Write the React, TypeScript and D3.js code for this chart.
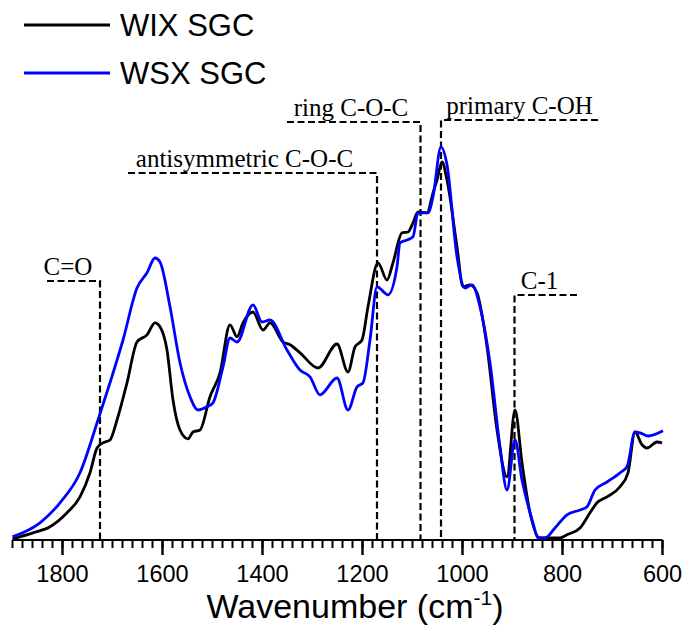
import React from "react";
import * as d3 from "d3";

// FTIR spectra (wavenumber in cm^-1, absorbance in arbitrary units)
const wixWavenumber = [
  1900, 1859, 1825, 1791, 1765, 1745, 1731, 1719, 1705, 1691, 1671, 1651, 1631, 1615, 1605,
  1591, 1579, 1565, 1549, 1539, 1525, 1505, 1485, 1465, 1451, 1439, 1419, 1399, 1385, 1359,
  1345, 1325, 1289, 1251, 1229, 1215, 1201, 1189, 1169, 1151, 1139, 1121, 1109, 1099, 1089,
  1071, 1059, 1051, 1041, 1031, 1011, 999, 985, 971, 951, 931, 911, 895, 881, 865, 845, 805,
  791, 765, 745, 731, 711, 685, 669, 655, 641, 631, 611, 601,
];
const wixAbsorbance = [
  0.003, 0.018, 0.033, 0.068, 0.108, 0.168, 0.23, 0.243, 0.25, 0.3, 0.393, 0.495, 0.513, 0.543, 0.533,
  0.475, 0.35, 0.275, 0.253, 0.27, 0.275, 0.358, 0.418, 0.538, 0.508, 0.543, 0.57, 0.525, 0.543, 0.495,
  0.488, 0.468, 0.43, 0.49, 0.42, 0.483, 0.5, 0.583, 0.693, 0.65, 0.693, 0.768, 0.77, 0.793, 0.82,
  0.818, 0.868, 0.9, 0.945, 0.9, 0.733, 0.633, 0.638, 0.618, 0.483, 0.275, 0.158, 0.325, 0.193, 0.068, 0.005, 0.005,
  0.013, 0.03, 0.068, 0.093, 0.108, 0.133, 0.168, 0.27, 0.238, 0.23, 0.245, 0.243,
];

const wsxWavenumber = [
  1900, 1845, 1805, 1765, 1729, 1705, 1679, 1651, 1631, 1615, 1605, 1585, 1565, 1545, 1529,
  1511, 1499, 1479, 1465, 1451, 1419, 1401, 1385, 1351, 1325, 1305, 1285, 1251, 1229, 1211,
  1199, 1185, 1171, 1149, 1131, 1125, 1111, 1099, 1089, 1069, 1059, 1043, 1031, 1011, 995,
  981, 965, 945, 925, 911, 895, 881, 859, 849, 835, 815, 791, 765, 751, 735, 711, 685, 671,
  655, 645, 629, 599,
];
const wsxAbsorbance = [
  0.008, 0.043, 0.093, 0.168, 0.3, 0.393, 0.5, 0.63, 0.668, 0.705, 0.695, 0.583, 0.443, 0.358, 0.325,
  0.333, 0.343, 0.433, 0.505, 0.495, 0.588, 0.545, 0.55, 0.475, 0.425, 0.408, 0.363, 0.405, 0.325, 0.383,
  0.393, 0.5, 0.633, 0.613, 0.683, 0.743, 0.75, 0.758, 0.818, 0.818, 0.858, 0.983, 0.938, 0.708, 0.63,
  0.638, 0.583, 0.443, 0.233, 0.125, 0.25, 0.15, 0.043, 0.005, 0.005, 0.03, 0.063, 0.075, 0.083, 0.125, 0.145, 0.168, 0.183,
  0.27, 0.268, 0.26, 0.273,
];

const seriesNames = ["WIX SGC", "WSX SGC"];
const seriesColors = ["#000000", "#0000ff"];

// Band assignments: vertical marker position, horizontal bracket extent and height
const bandLabels = ["C=O", "antisymmetric C-O-C", "ring C-O-C", "primary C-OH", "C-1"];
const bandPosition = [1725, 1171, 1084, 1043, 896];
const bandBracketEnd = [1831, 1669, 1351, 729, 771];
const bandLevel = [0.6475, 0.9175, 1.045, 1.05, 0.6125];
const bandLabelCenter = [1789, 1436, 1223, 886, 846];

const xMajorTicks = [1800, 1600, 1400, 1200, 1000, 800, 600];
const xDomain = [1900, 600];

const W = 686;
const H = 626;

export default function App() {
  const x = d3.scaleLinear().domain(xDomain).range([12.5, 662.5]);
  const y = d3.scaleLinear().domain([0, 1]).range([540, 140]);

  const line = d3
    .line<[number, number]>()
    .x((d) => x(d[0]))
    .y((d) => y(d[1]))
    .curve(d3.curveMonotoneX);

  const series = [
    d3.zip(wixWavenumber, wixAbsorbance) as [number, number][],
    d3.zip(wsxWavenumber, wsxAbsorbance) as [number, number][],
  ];

  const minorTicks = d3.range(1900, 599, -20);
  const y0 = y(0);

  return (
    <svg
      width={W}
      height={H}
      style={{ position: "absolute", left: 0, top: 0, background: "#fff" }}
    >
      {/* band markers */}
      <g fill="none" stroke="#000" strokeWidth={2.2} strokeDasharray="7,3.5">
        {bandLabels.map((b, i) => (
          <path
            key={b}
            d={`M${x(bandBracketEnd[i])},${y(bandLevel[i])}H${x(bandPosition[i])}V${y0}`}
          />
        ))}
      </g>
      <g fontFamily="'Liberation Serif', 'Times New Roman', serif" fontSize={25} fill="#000">
        {bandLabels.map((b, i) => (
          <text key={b} x={x(bandLabelCenter[i])} y={y(bandLevel[i]) - 6} textAnchor="middle">
            {b}
          </text>
        ))}
      </g>

      {/* spectra; the blue one is drawn last so it sits on top */}
      {series.map((s, i) => (
        <path
          key={seriesNames[i]}
          d={line(s) || ""}
          fill="none"
          stroke={seriesColors[i]}
          strokeWidth={2.8}
          strokeLinejoin="round"
        />
      ))}

      {/* x axis */}
      <g stroke="#000">
        <line x1={x(1900)} x2={x(600)} y1={y0} y2={y0} strokeWidth={2.2} />
        {minorTicks.map((t) => (
          <line key={t} x1={x(t)} x2={x(t)} y1={y0} y2={y0 + 8} strokeWidth={2} />
        ))}
        {xMajorTicks.map((t) => (
          <line key={t} x1={x(t)} x2={x(t)} y1={y0} y2={y0 + 15} strokeWidth={2.4} />
        ))}
      </g>
      <g fontFamily="'Liberation Sans', Arial, sans-serif" fontSize={23.5} fill="#000" textAnchor="middle">
        {xMajorTicks.map((t) => (
          <text key={t} x={x(t)} y={582}>
            {t}
          </text>
        ))}
      </g>
      <text
        x={355}
        y={618}
        textAnchor="middle"
        fontFamily="'Liberation Sans', Arial, sans-serif"
        fontSize={34}
      >
        Wavenumber (cm
        <tspan fontSize={21} dy={-13}>
          -1
        </tspan>
        <tspan dy={13}>)</tspan>
      </text>

      {/* legend */}
      {seriesNames.map((n, i) => (
        <g key={n} transform={`translate(0, ${25 + i * 48})`}>
          <line x1={24} x2={110} y1={0} y2={0} stroke={seriesColors[i]} strokeWidth={3} />
          <text
            x={120}
            y={11}
            fontFamily="'Liberation Sans', Arial, sans-serif"
            fontSize={31}
            fill="#000"
          >
            {n}
          </text>
        </g>
      ))}
    </svg>
  );
}
